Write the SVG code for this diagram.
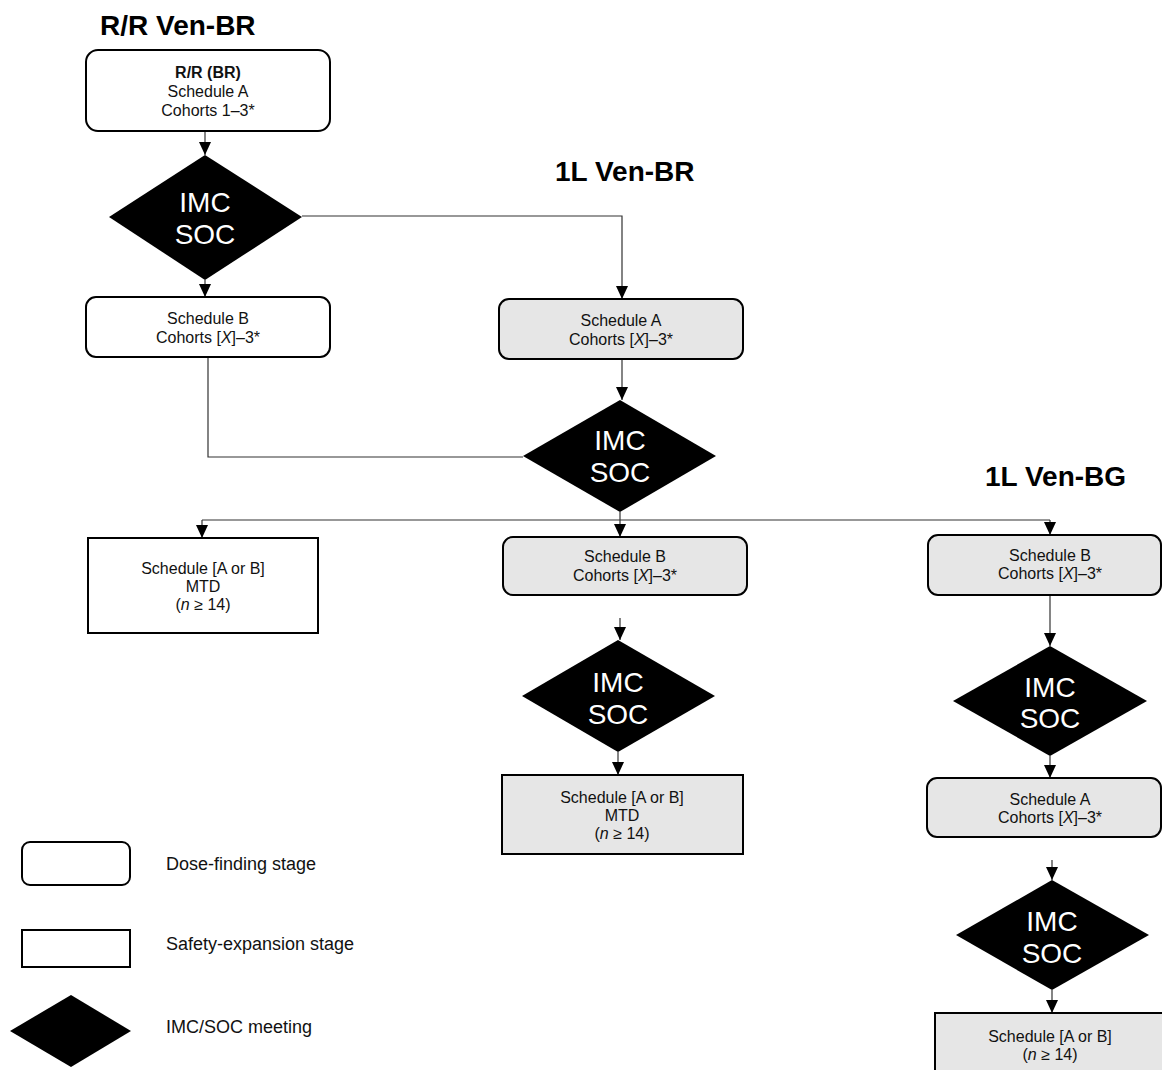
<svg xmlns="http://www.w3.org/2000/svg" width="1162" height="1070" viewBox="0 0 1162 1070">
<defs>
<marker id="arr" markerUnits="userSpaceOnUse" markerWidth="14" markerHeight="12" refX="13" refY="6" orient="auto" viewBox="0 0 14 12">
<path d="M0,0 L13,6 L0,12 Z" fill="#000"/>
</marker>
<style>
.t{font-family:"Liberation Sans",Arial,sans-serif;font-size:16px;fill:#111;text-anchor:middle}
.tb{font-weight:bold}
.h{font-family:"Liberation Sans",Arial,sans-serif;font-size:28px;font-weight:bold;fill:#000}
.d{font-family:"Liberation Sans",Arial,sans-serif;font-size:28px;fill:#fff;text-anchor:middle}
.lg{font-family:"Liberation Sans",Arial,sans-serif;font-size:18px;fill:#111}
.w{fill:#fff;stroke:#000;stroke-width:2}
.g{fill:#e6e6e6;stroke:#000;stroke-width:2}
.dm{fill:#000}
.c{fill:none;stroke:#333;stroke-width:1.2}
.ca{fill:none;stroke:#333;stroke-width:1.2;marker-end:url(#arr)}
</style>
</defs>
<rect width="1162" height="1070" fill="#fff"/>

<text class="h" x="100" y="35">R/R Ven-BR</text>
<text class="h" x="555" y="181">1L Ven-BR</text>
<text class="h" x="985" y="486">1L Ven-BG</text>

<g id="connectors">
<path class="ca" d="M205,131 V155"/>
<path class="ca" d="M205,280 V297"/>
<path class="ca" d="M302,216 H622 V299"/>
<path class="c" d="M208,357 V457 H523"/>
<path class="ca" d="M622,359 V400"/>
<path class="c" d="M620,512 V520"/>
<path class="c" d="M202,520 H1050"/>
<path class="ca" d="M202,520 V538"/>
<path class="ca" d="M620,520 V537"/>
<path class="ca" d="M1050,520 V535"/>
<path class="ca" d="M620,618 V640"/>
<path class="ca" d="M618,752 V775"/>
<path class="ca" d="M1050,595 V646"/>
<path class="ca" d="M1050,756 V778"/>
<path class="ca" d="M1052,860 V880"/>
<path class="ca" d="M1052,990 V1013"/>
</g>

<g id="rr-box">
<rect class="w" x="86" y="50" width="244" height="81" rx="12"/>
<text class="t tb" x="208" y="78">R/R (BR)</text>
<text class="t" x="208" y="97">Schedule A</text>
<text class="t" x="208" y="116">Cohorts 1–3*</text>
</g>

<g id="rr-imc1">
<polygon class="dm" points="205,155 302,217 205,280 109,217"/>
<text class="d" x="205" y="212">IMC</text>
<text class="d" x="205" y="244">SOC</text>
</g>

<g id="rr-schedB">
<rect class="w" x="86" y="297" width="244" height="60" rx="10"/>
<text class="t" x="208" y="324">Schedule B</text>
<text class="t" x="208" y="343">Cohorts [<tspan font-style="italic">X</tspan>]–3*</text>
</g>

<g id="br-schedA">
<rect class="g" x="499" y="299" width="244" height="60" rx="10"/>
<text class="t" x="621" y="326">Schedule A</text>
<text class="t" x="621" y="345">Cohorts [<tspan font-style="italic">X</tspan>]–3*</text>
</g>

<g id="br-imc1">
<polygon class="dm" points="620,400 716,456 620,512 523,456"/>
<text class="d" x="620" y="450">IMC</text>
<text class="d" x="620" y="482">SOC</text>
</g>

<g id="rr-mtd">
<rect class="w" x="88" y="538" width="230" height="95"/>
<text class="t" x="203" y="574">Schedule [A or B]</text>
<text class="t" x="203" y="592">MTD</text>
<text class="t" x="203" y="610">(<tspan font-style="italic">n</tspan> ≥ 14)</text>
</g>

<g id="br-schedB">
<rect class="g" x="503" y="537" width="244" height="58" rx="10"/>
<text class="t" x="625" y="562">Schedule B</text>
<text class="t" x="625" y="581">Cohorts [<tspan font-style="italic">X</tspan>]–3*</text>
</g>

<g id="br-imc2">
<polygon class="dm" points="618,640 715,696 618,752 522,696"/>
<text class="d" x="618" y="692">IMC</text>
<text class="d" x="618" y="724">SOC</text>
</g>

<g id="br-mtd">
<rect class="g" x="502" y="775" width="241" height="79"/>
<text class="t" x="622" y="803">Schedule [A or B]</text>
<text class="t" x="622" y="821">MTD</text>
<text class="t" x="622" y="839">(<tspan font-style="italic">n</tspan> ≥ 14)</text>
</g>

<g id="bg-schedB">
<rect class="g" x="928" y="535" width="233" height="60" rx="10"/>
<text class="t" x="1050" y="561">Schedule B</text>
<text class="t" x="1050" y="579">Cohorts [<tspan font-style="italic">X</tspan>]–3*</text>
</g>

<g id="bg-imc1">
<polygon class="dm" points="1050,646 1147,701 1050,756 953,701"/>
<text class="d" x="1050" y="697">IMC</text>
<text class="d" x="1050" y="728">SOC</text>
</g>

<g id="bg-schedA">
<rect class="g" x="927" y="778" width="234" height="59" rx="10"/>
<text class="t" x="1050" y="805">Schedule A</text>
<text class="t" x="1050" y="823">Cohorts [<tspan font-style="italic">X</tspan>]–3*</text>
</g>

<g id="bg-imc2">
<polygon class="dm" points="1052,880 1149,935 1052,990 956,935"/>
<text class="d" x="1052" y="931">IMC</text>
<text class="d" x="1052" y="963">SOC</text>
</g>

<g id="bg-final">
<rect class="g" x="935" y="1013" width="240" height="70"/>
<text class="t" x="1050" y="1042">Schedule [A or B]</text>
<text class="t" x="1050" y="1060">(<tspan font-style="italic">n</tspan> ≥ 14)</text>
</g>

<g id="legend">
<rect class="w" x="22" y="842" width="108" height="43" rx="8"/>
<text class="lg" x="166" y="870">Dose-finding stage</text>
<rect class="w" x="22" y="930" width="108" height="37"/>
<text class="lg" x="166" y="950">Safety-expansion stage</text>
<polygon class="dm" points="71,995 131,1031 71,1067 10,1031"/>
<text class="lg" x="166" y="1033">IMC/SOC meeting</text>
</g>
</svg>
